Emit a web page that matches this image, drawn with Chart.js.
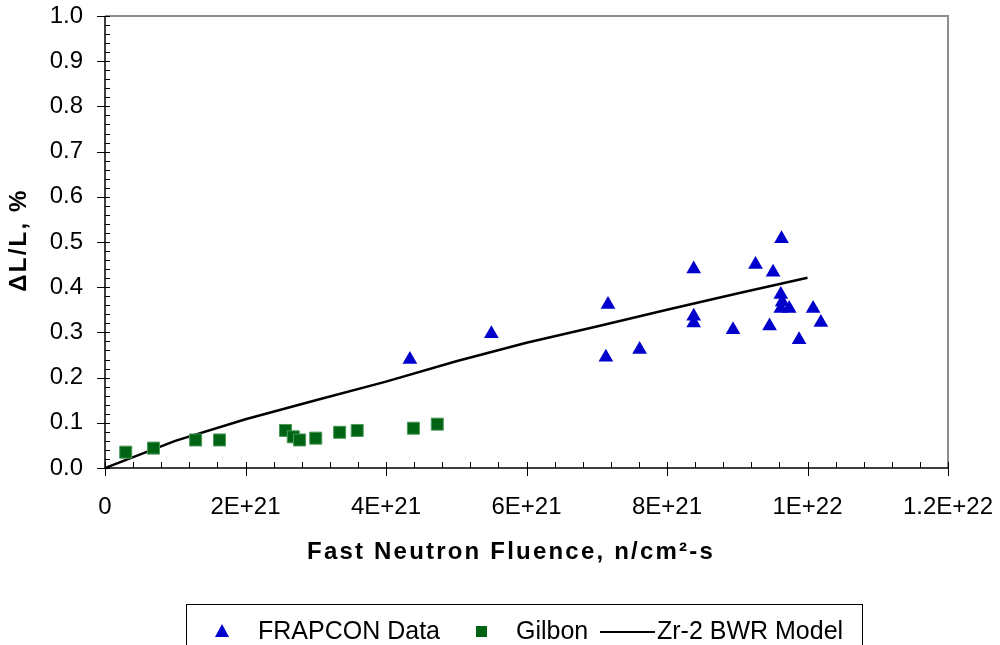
<!DOCTYPE html>
<html>
<head>
<meta charset="utf-8">
<script src="https://cdn.jsdelivr.net/npm/chart.js@4.4.1/dist/chart.umd.min.js"></script>
<style>
  html, body { margin: 0; padding: 0; background: #ffffff; }
  #wrap { width: 1000px; height: 645px; }
</style>
</head>
<body>
<div id="wrap"><canvas id="dlChart" width="1000" height="645"></canvas></div>
<script>
// FRAPCON data (triangles)
const frapconX = [4.34e21, 5.50e21, 7.13e21, 7.16e21, 7.61e21, 8.38e21, 8.38e21, 8.38e21, 8.94e21, 9.26e21,
                  9.46e21, 9.51e21, 9.63e21, 9.62e21, 9.64e21, 9.62e21, 9.74e21, 9.88e21, 10.08e21, 10.19e21];
const frapconY = [0.240, 0.297, 0.245, 0.362, 0.262, 0.440, 0.336, 0.321, 0.306, 0.450,
                  0.314, 0.433, 0.507, 0.384, 0.367, 0.353, 0.353, 0.284, 0.353, 0.322];

// Gilbon data (squares)
const gilbonX = [0.295e21, 0.69e21, 1.29e21, 1.63e21, 2.57e21, 2.68e21, 2.77e21, 3.00e21, 3.34e21, 3.59e21, 4.39e21, 4.73e21];
const gilbonY = [0.035, 0.044, 0.062, 0.062, 0.083, 0.069, 0.062, 0.066, 0.079, 0.083, 0.088, 0.097];

// Zr-2 BWR model curve
const modelX = [0, 1e21, 2e21, 3e21, 4e21, 5e21, 6e21, 7e21, 8e21, 9e21, 1e22];
const modelY = [0, 0.060, 0.108, 0.150, 0.191, 0.236, 0.277, 0.313, 0.350, 0.386, 0.421];

// axis tick labels
const xTickLabels = ["0", "2E+21", "4E+21", "6E+21", "8E+21", "1E+22", "1.2E+22"];
const yTickLabels = ["0.0", "0.1", "0.2", "0.3", "0.4", "0.5", "0.6", "0.7", "0.8", "0.9", "1.0"];

const seriesNames = ["FRAPCON Data", "Gilbon", "Zr-2 BWR Model"];
const xTitle = "Fast Neutron Fluence, n/cm\u00b2-s";
const yTitle = "\u0394L/L, %";

const FONT = "'Liberation Sans', Arial, sans-serif";
const BLUE = "#0000cc";
const GREEN = "#006414";

const toPoints = (xs, ys) => xs.map((x, i) => ({ x: x, y: ys[i] }));

// frame, minor/major ticks, titles and legend box like the Excel original
const decorPlugin = {
  id: "decor",
  beforeDatasetsDraw(chart) {
    const { ctx, chartArea: a, scales } = chart;
    const xs = scales.x, ys = scales.y;
    ctx.save();
    // gray plot border (top / right)
    ctx.strokeStyle = "#8c8c8c";
    ctx.lineWidth = 2;
    ctx.beginPath();
    ctx.moveTo(a.left, a.top);
    ctx.lineTo(a.right, a.top);
    ctx.lineTo(a.right, a.bottom);
    ctx.stroke();

    // axes
    ctx.strokeStyle = "#000000";
    ctx.lineWidth = 1.5;
    ctx.beginPath();
    ctx.moveTo(a.left, a.top);
    ctx.lineTo(a.left, a.bottom);
    ctx.lineTo(a.right, a.bottom);
    ctx.stroke();

    ctx.lineWidth = 1;
    ctx.beginPath();
    // x minor ticks (inside) every 4E+20, major ticks (outside) every 2E+21
    for (let v = 0; v <= 1.2e22 + 1; v += 4e20) {
      const px = Math.round(xs.getPixelForValue(v)) + 0.5;
      ctx.moveTo(px, a.bottom);
      ctx.lineTo(px, a.bottom - 6);
    }
    for (let v = 0; v <= 1.2e22 + 1; v += 2e21) {
      const px = Math.round(xs.getPixelForValue(v)) + 0.5;
      ctx.moveTo(px, a.bottom);
      ctx.lineTo(px, a.bottom + 8);
    }
    // y minor ticks (inside) every 0.02, major (outside) every 0.1
    for (let i = 0; i <= 50; i++) {
      const py = Math.round(ys.getPixelForValue(i * 0.02)) + 0.5;
      ctx.moveTo(a.left, py);
      ctx.lineTo(a.left + 5, py);
    }
    for (let i = 0; i <= 10; i++) {
      const py = Math.round(ys.getPixelForValue(i * 0.1)) + 0.5;
      ctx.moveTo(a.left, py);
      ctx.lineTo(a.left - 8, py);
    }
    ctx.stroke();
    ctx.restore();
  },
  afterDraw(chart) {
    const { ctx } = chart;
    ctx.save();
    ctx.fillStyle = "#000000";
    // axis titles
    ctx.font = "bold 24px " + FONT;
    ctx.letterSpacing = "2.2px";
    ctx.textAlign = "center";
    ctx.textBaseline = "middle";
    ctx.fillText(xTitle, 511, 552);
    ctx.save();
    ctx.translate(19, 240);
    ctx.rotate(-Math.PI / 2);
    ctx.fillText(yTitle, 0, 0);
    ctx.restore();
    ctx.letterSpacing = "0px";

    // legend box
    ctx.strokeStyle = "#000000";
    ctx.lineWidth = 1;
    ctx.strokeRect(186.5, 604.5, 676, 50);
    const ly = 632;
    ctx.font = "25px " + FONT;
    ctx.textAlign = "left";
    // triangle
    ctx.fillStyle = BLUE;
    ctx.beginPath();
    ctx.moveTo(222, ly - 8);
    ctx.lineTo(229, ly + 5);
    ctx.lineTo(215, ly + 5);
    ctx.closePath();
    ctx.fill();
    ctx.fillStyle = "#000000";
    ctx.fillText(seriesNames[0], 258, ly);
    // square
    ctx.fillStyle = GREEN;
    ctx.fillRect(476, ly - 6, 11, 11);
    ctx.fillStyle = "#000000";
    ctx.fillText(seriesNames[1], 516, ly);
    // line
    ctx.strokeStyle = "#000000";
    ctx.lineWidth = 2;
    ctx.beginPath();
    ctx.moveTo(600, ly);
    ctx.lineTo(655, ly);
    ctx.stroke();
    ctx.fillText(seriesNames[2], 657, ly);
    ctx.restore();
  }
};

const ctx = document.getElementById("dlChart").getContext("2d");
new Chart(ctx, {
  type: "scatter",
  data: {
    datasets: [
      {
        label: seriesNames[0],
        data: toPoints(frapconX, frapconY),
        pointStyle: "triangle",
        pointRadius: 8.5,
        pointHoverRadius: 8.5,
        backgroundColor: BLUE,
        borderColor: BLUE,
        borderWidth: 0,
        order: 1,
      },
      {
        label: seriesNames[1],
        data: toPoints(gilbonX, gilbonY),
        pointStyle: "rect",
        pointRadius: 8.5,
        pointHoverRadius: 8.5,
        backgroundColor: GREEN,
        borderColor: "#4c9a5a",
        borderWidth: 1,
        order: 2,
      },
      {
        label: seriesNames[2],
        type: "line",
        data: toPoints(modelX, modelY),
        showLine: true,
        borderColor: "#000000",
        borderWidth: 2.5,
        pointRadius: 0,
        pointHoverRadius: 0,
        tension: 0,
        fill: false,
        order: 3,
      },
    ],
  },
  options: {
    responsive: false,
    animation: false,
    devicePixelRatio: 1,
    layout: {
      padding: { top: 16, right: 52, bottom: 105, left: 0 },
    },
    scales: {
      x: {
        type: "linear",
        min: 0,
        max: 1.2e22,
        grid: { display: false, drawTicks: false },
        border: { display: false },
        ticks: {
          stepSize: 2e21,
          padding: 25,
          color: "#000000",
          font: { family: FONT, size: 24 },
          maxRotation: 0,
          callback: (v) => xTickLabels[Math.round(v / 2e21)],
        },
        afterFit: (s) => {
          s.height = 72;
          s.paddingLeft = 0;
          s.paddingRight = 0;
        },
      },
      y: {
        type: "linear",
        min: 0,
        max: 1,
        grid: { display: false, drawTicks: false },
        border: { display: false },
        ticks: {
          stepSize: 0.1,
          padding: 22,
          color: "#000000",
          font: { family: FONT, size: 24 },
          callback: (v) => yTickLabels[Math.round(v * 10)],
        },
        afterFit: (s) => {
          s.width = 105;
          s.paddingTop = 0;
          s.paddingBottom = 0;
        },
      },
    },
    plugins: {
      legend: { display: false },
      tooltip: { enabled: false },
    },
  },
  plugins: [decorPlugin],
});
</script>
</body>
</html>
